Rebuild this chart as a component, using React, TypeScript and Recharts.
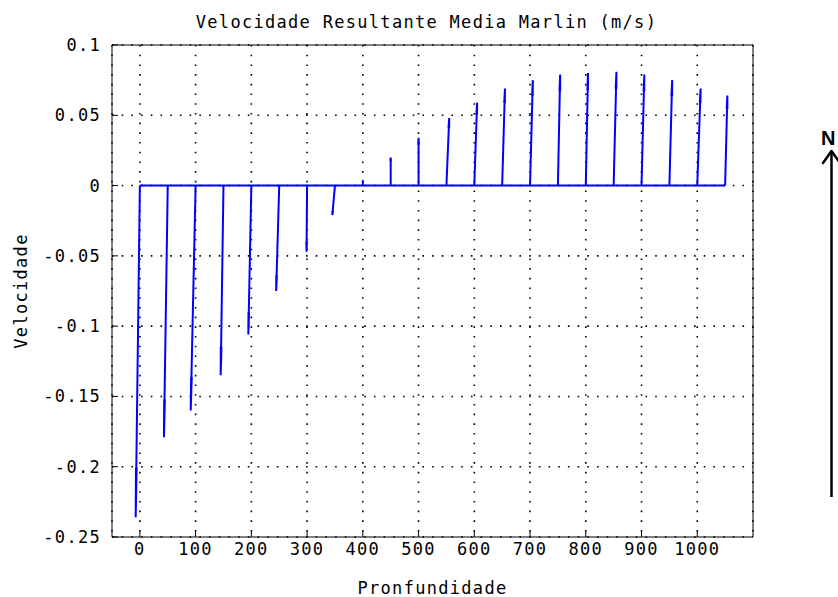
import React from 'react';
import { ComposedChart, Line, XAxis, YAxis, CartesianGrid } from 'recharts';

// Depth stations (m) where the mean resultant velocity vector is drawn
const depths = [0, 50, 100, 150, 200, 250, 300, 350, 400, 450, 500, 550, 600, 650, 700, 750, 800, 850, 900, 950, 1000, 1050];
// Vertical component of each vector (m/s)
const velocities = [-0.236, -0.179, -0.16, -0.135, -0.106, -0.075, -0.047, -0.021, 0.003, 0.02, 0.034, 0.048, 0.059, 0.069, 0.075, 0.079, 0.08, 0.081, 0.079, 0.075, 0.069, 0.064];
// Horizontal lean of each vector, in depth units
const leans = [-7.5, -6.8, -8.8, -5, -5.4, -5.5, -1, -4.7, 0, 0, 0, 5, 5, 5, 5, 4, 4, 5, 5, 5, 6, 4];

const xTicks = [0, 100, 200, 300, 400, 500, 600, 700, 800, 900, 1000];
const yTicks = [0.1, 0.05, 0, -0.05, -0.1, -0.15, -0.2, -0.25];

const titleText = 'Velocidade Resultante Media Marlin (m/s)';
const xLabel = 'Pronfundidade';
const yLabel = 'Velocidade';

// Arrow polyline: shaft from the baseline to the tip, then two head strokes
const HEAD_FRAC = 0.85;
const HEAD_HALF = 0.6;
const arrows = depths.map((d, i) => {
  const v = velocities[i];
  const u = leans[i];
  const tip = { x: d + u, y: v };
  return [
    { x: d, y: 0 },
    tip,
    { x: d + HEAD_FRAC * u - HEAD_HALF, y: HEAD_FRAC * v },
    tip,
    { x: d + HEAD_FRAC * u + HEAD_HALF, y: HEAD_FRAC * v },
  ];
});
const baseline = [
  { x: depths[0], y: 0 },
  { x: depths[depths.length - 1], y: 0 },
];

const BLUE = '#0000ff';
const FONT = '"DejaVu Sans Mono", monospace';

export default function App() {
  return (
    <div
      style={{
        position: 'absolute',
        left: 0,
        top: 0,
        width: 838,
        height: 597,
        background: '#fff',
        fontFamily: FONT,
        fontSize: 17,
        letterSpacing: '1.3px',
        overflow: 'hidden',
      }}
    >
      <ComposedChart width={838} height={597} margin={{ top: 35, right: 75, bottom: 0, left: 12 }}>
        <XAxis
          xAxisId="b"
          type="number"
          dataKey="x"
          orientation="bottom"
          domain={[-50, 1100]}
          ticks={xTicks}
          interval={0}
          allowDataOverflow
          height={60}
          tickSize={-6}
          tickMargin={12}
          stroke="#000"
          tick={{ fill: '#000' }}
          label={(props: any) => {
            const vb = props.viewBox;
            return (
              <text x={vb.x + vb.width / 2} y={vb.y + vb.height - 3} textAnchor="middle" fill="#000">
                {xLabel}
              </text>
            );
          }}
        />
        <XAxis
          xAxisId="t"
          type="number"
          dataKey="x"
          orientation="top"
          domain={[-50, 1100]}
          ticks={xTicks}
          interval={0}
          allowDataOverflow
          height={10}
          tickSize={-6}
          tick={false}
          stroke="#000"
          label={(props: any) => {
            const vb = props.viewBox;
            return (
              <text x={vb.x + vb.width / 2 - 6} y={vb.y - 7} textAnchor="middle" fill="#000">
                {titleText}
              </text>
            );
          }}
        />
        <YAxis
          yAxisId="l"
          type="number"
          domain={[-0.25, 0.1]}
          ticks={yTicks}
          interval={0}
          allowDataOverflow
          width={100}
          tickSize={-6}
          tickMargin={17}
          stroke="#000"
          tick={{ fill: '#000' }}
          tickFormatter={(v: number) => String(v)}
          label={(props: any) => {
            const vb = props.viewBox;
            const cx = vb.x + 9;
            const cy = vb.y + vb.height / 2;
            return (
              <text x={cx} y={cy} transform={`rotate(-90, ${cx}, ${cy})`} textAnchor="middle" dominantBaseline="central" fill="#000">
                {yLabel}
              </text>
            );
          }}
        />
        <YAxis
          yAxisId="r"
          orientation="right"
          type="number"
          domain={[-0.25, 0.1]}
          ticks={yTicks}
          interval={0}
          allowDataOverflow
          width={10}
          tickSize={-6}
          tick={false}
          stroke="#000"
        />
        <Line
          xAxisId="b"
          yAxisId="l"
          data={baseline}
          dataKey="y"
          stroke={BLUE}
          strokeWidth={2}
          dot={false}
          activeDot={false}
          isAnimationActive={false}
        />
        {arrows.map((pts, i) => (
          <Line
            key={depths[i]}
            xAxisId="b"
            yAxisId="l"
            data={pts}
            dataKey="y"
            stroke={BLUE}
            strokeWidth={2}
            dot={false}
            activeDot={false}
            isAnimationActive={false}
          />
        ))}
        <CartesianGrid
          xAxisId="b"
          yAxisId="l"
          stroke="#000"
          strokeWidth={1.6}
          strokeDasharray="1.6 8.1"
          fill="none"
        />
      </ComposedChart>
      <svg
        width={838}
        height={597}
        style={{ position: 'absolute', left: 0, top: 0, pointerEvents: 'none' }}
      >
        <text
          x={821}
          y={145}
          fontFamily='"Liberation Sans", Arial, sans-serif'
          fontWeight="bold"
          fontSize={20}
          letterSpacing="0"
          fill="#000"
        >
          N
        </text>
        <line x1={831.5} y1={151} x2={831.5} y2={497} stroke="#000" strokeWidth={2.5} />
        <polyline
          points="823,163 831.5,151 840,163"
          fill="none"
          stroke="#000"
          strokeWidth={2.5}
          strokeLinecap="round"
          strokeLinejoin="round"
        />
      </svg>
    </div>
  );
}
